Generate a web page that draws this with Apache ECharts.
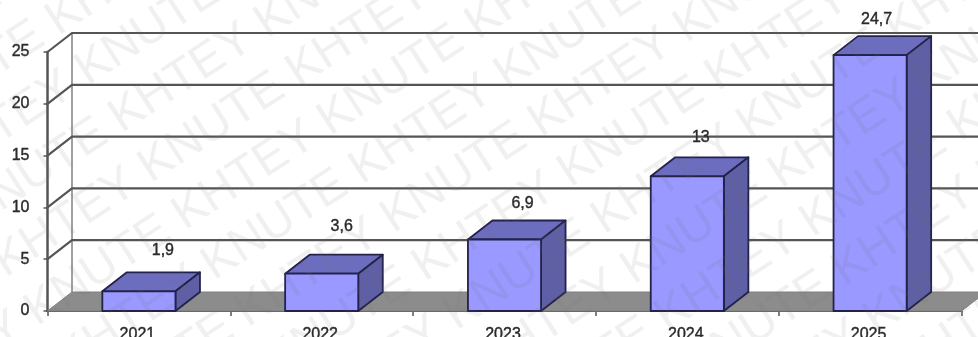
<!DOCTYPE html>
<html><head><meta charset="utf-8">
<style>html,body{margin:0;padding:0;background:#fff}#c{width:978px;height:337px;filter:blur(0.6px)}</style>
<script src="https://cdn.jsdelivr.net/npm/echarts@6/dist/echarts.min.js"></script>
</head><body><div id="c"></div>
<script>
const categories=['2021','2022','2023','2024','2025'];
const values=[1.9,3.6,6.9,13,24.7];
const valueLabels=['1,9','3,6','6,9','13','24,7'];
const ticks=[0,5,10,15,20,25];
const depthX=24.5, depthY=19, barFrac=0.4;
const labelLift=[22,28,17,20,17];
const labelShift=[24,20,18,13.5,6.5];
const wmWords=['KHTEY','KNUTE'];
const wmAngle=33*Math.PI/180;

const wmGraphic=[];
{
 const ca=Math.cos(wmAngle), sa=Math.sin(wmAngle), perp=58;
 const anchorX=358, anchorY=200;
 for(let r=-8;r<=10;r++){
  const first=wmWords[((r%2)+2)%2], second=wmWords[((r%2)+3)%2];
  let txt=''; for(let k=0;k<10;k++) txt+=first+' '+second+' ';
  const back=7.2*48*3;
  wmGraphic.push({type:'text',silent:true,z:100,
    x:anchorX+r*perp*sa-back*ca, y:anchorY+r*perp*ca+back*sa, rotation:wmAngle,
    style:{text:txt,fill:'rgba(110,110,110,0.105)',font:'48px "Liberation Sans"',textAlign:'left',verticalAlign:'bottom'}});
 }
}

const chart=echarts.init(document.getElementById('c'),null,{renderer:'canvas'});
const wall={type:'custom',silent:true,z:1,clip:false,data:ticks.map(t=>[0,t]),
 renderItem(p,api){
  const t=api.value(1), y=api.coord([0,t])[1];
  const cs=p.coordSys, x0=cs.x, x1=cs.x+cs.width;
  const kids=[];
  if(t===0){
    kids.push({type:'polygon',shape:{points:[[x0,y],[x0+depthX,y-depthY],[x1+depthX,y-depthY],[x1,y]]},style:{fill:'#8c8c8c',stroke:'#808080',lineWidth:1}});
    kids.push({type:'line',shape:{x1:x0+depthX,y1:y-depthY,x2:x0+depthX,y2:cs.y-depthY},style:{stroke:'#808080',lineWidth:1.5}});
  } else {
    kids.push({type:'polyline',shape:{points:[[x0,y],[x0+depthX,y-depthY],[x1+depthX,y-depthY]]},style:{stroke:'#555',lineWidth:2.2,fill:null}});
  }
  return {type:'group',children:kids};
 },encode:{x:0,y:1}};
const bars={type:'custom',z:3,clip:false,data:values.map((v,i)=>[i,v,valueLabels[i]]),
 renderItem(p,api){
  const i=api.value(0),v=api.value(1);
  const c=api.coord([i,v]), b=api.coord([i,0]);
  const w=api.size([1,0])[0]*barFrac, l=c[0]-w/2, r=c[0]+w/2, t=c[1], bt=b[1];
  const st={stroke:'#22224a',lineWidth:1.8,lineJoin:'round'};
  const dx=depthX,dy=depthY;
  return {type:'group',children:[
   {type:'polygon',shape:{points:[[l,t],[l+dx,t-dy],[r+dx,t-dy],[r,t]]},style:{...st,fill:'#6d6dc0'}},
   {type:'polygon',shape:{points:[[r,t],[r+dx,t-dy],[r+dx,bt-dy],[r,bt]]},style:{...st,fill:'#5f5fa5'}},
   {type:'rect',shape:{x:l,y:t,width:r-l,height:bt-t},style:{...st,fill:'#9999ff'}},
   {type:'text',style:{text:api.value(2),x:c[0]+labelShift[i],y:t-dy-labelLift[i],align:'center',verticalAlign:'middle',fill:'#2a2a2a',stroke:'#2a2a2a',lineWidth:0.4,font:'16px "Liberation Sans"'}}
  ]};
 },encode:{x:0,y:1}};
const axText={color:'#2a2a2a',textBorderColor:'#2a2a2a',textBorderWidth:0.4,fontFamily:'Liberation Sans',fontSize:16};
chart.setOption({
 animation:false,
 grid:{left:47.5,right:16.5,top:52,bottom:26,outerBoundsMode:'none'},
 xAxis:{type:'category',data:categories,boundaryGap:true,
  axisLine:{lineStyle:{color:'#555',width:2}},
  axisTick:{show:true,length:5,lineStyle:{color:'#555',width:1.5}},
  axisLabel:{...axText,margin:16,padding:[0,3,0,0]}},
 yAxis:{type:'value',min:0,max:25,interval:5,
  axisLine:{show:true,lineStyle:{color:'#555',width:2.5}},
  axisTick:{show:true,length:4,lineStyle:{color:'#555',width:1.5}},
  splitLine:{show:false},
  axisLabel:{...axText,margin:18}},
 series:[wall,bars],
 graphic:wmGraphic
});
</script></body></html>
